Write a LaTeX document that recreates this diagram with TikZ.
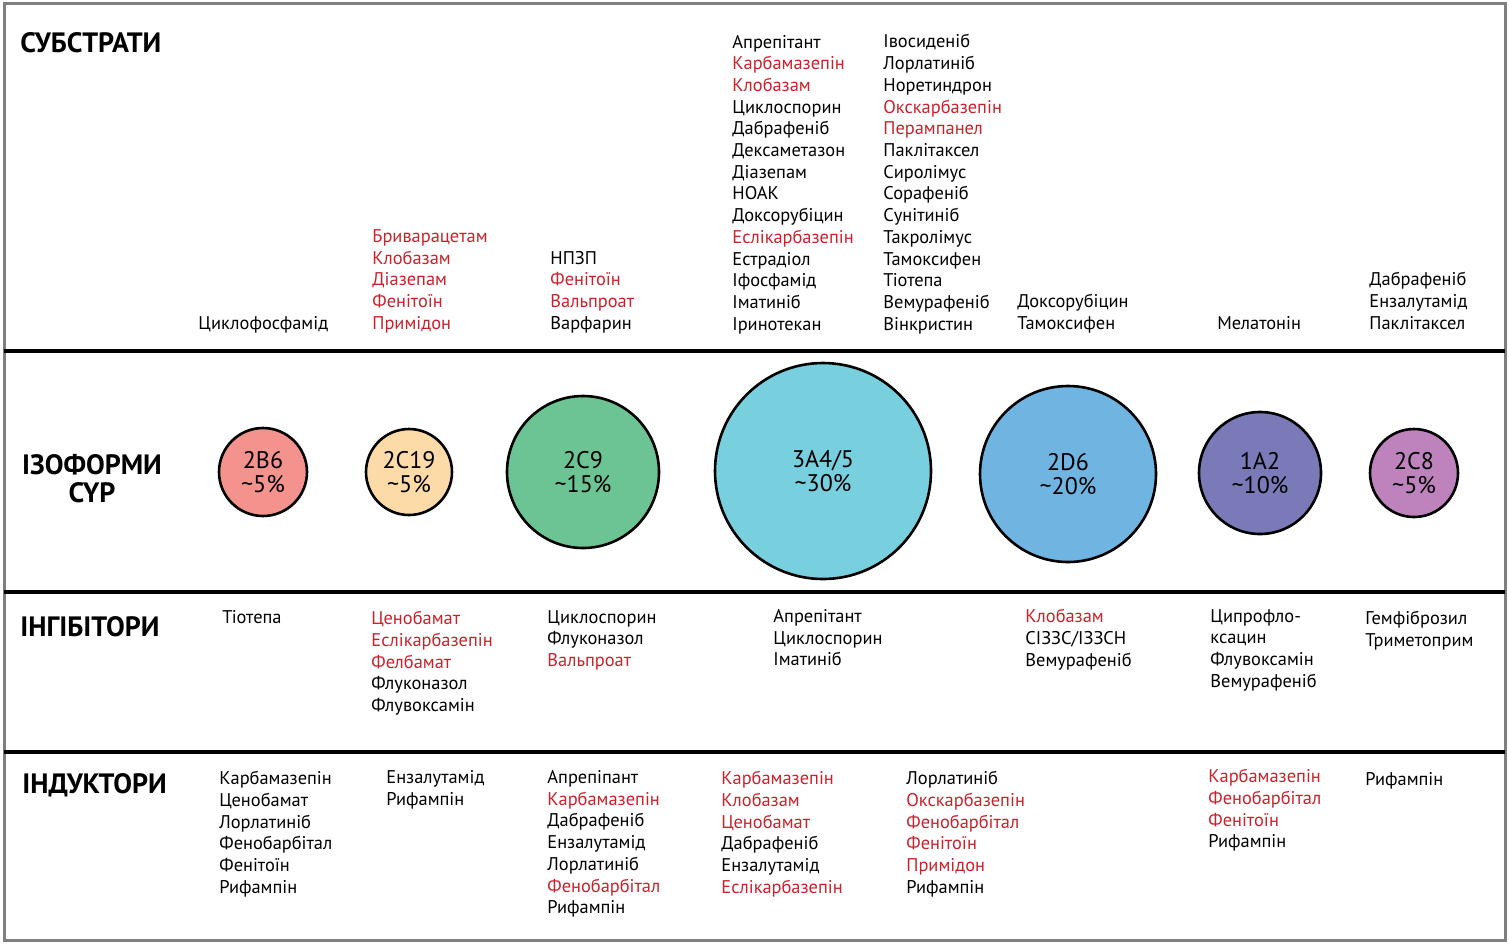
\documentclass[tikz,border=0pt]{standalone}
\usepackage{fontspec}
\setmainfont{PT Sans}
\definecolor{drugred}{RGB}{200,35,45}
\definecolor{col2b6}{HTML}{F4938E}
\definecolor{col2c19}{HTML}{FDDBA8}
\definecolor{col2c9}{HTML}{6CC494}
\definecolor{col3a4}{HTML}{78D0DE}
\definecolor{col2d6}{HTML}{70B5E2}
\definecolor{col1a2}{HTML}{7A7AB8}
\definecolor{col2c8}{HTML}{BE82BC}
\newcommand{\rd}[1]{\textcolor{drugred}{#1}}
\tikzset{
  lista/.style={inner sep=0pt, align=left, font=\fontsize{9.2}{10.85}\selectfont,
    execute at begin node=\strut, execute at end node=\strut},
  titolo/.style={inner sep=0pt, align=center, font=\fontsize{14}{14}\selectfont\bfseries},
  iso/.style={circle, draw=black, line width=1.3pt, inner sep=0pt, align=center,
    font=\fontsize{12}{12}\selectfont},
  riga/.style={line width=2pt}
}
\begin{document}
\begin{tikzpicture}[x=0.5pt,y=-0.5pt]
  \useasboundingbox (0,0) rectangle (1509,944);
  % cornice e righe
  \draw[gray, line width=1.5pt] (4,3) rectangle (1505,940);
  \draw[riga] (4,351) -- (1505,351);
  \draw[riga] (4,592) -- (1505,592);
  \draw[riga] (4,752) -- (1505,752);

  % titoli
  \node[titolo, anchor=west] (tsub) at (20,43) {СУБСТРАТИ};
  \node[titolo] (tiso) at (92,479) {ІЗОФОРМИ\\CYP};
  \node[titolo, anchor=west] (tinh) at (20,627) {ІНГІБІТОРИ};
  \node[titolo, anchor=west] (tind) at (22,785) {ІНДУКТОРИ};

  % substrati
  \node[lista, anchor=south west] (s2b6) at (198,336) {Циклофосфамід};
  \node[lista, anchor=south west] (s2c19) at (372,336) {\rd{Бриварацетам}\\\rd{Клобазам}\\\rd{Діазепам}\\\rd{Фенітоїн}\\\rd{Примідон}};
  \node[lista, anchor=south west] (s2c9) at (550,336) {НПЗП\\\rd{Фенітоїн}\\\rd{Вальпроат}\\Варфарин};
  \node[lista, anchor=south west] (s3a4a) at (732,337) {Апрепітант\\\rd{Карбамазепін}\\\rd{Клобазам}\\Циклоспорин\\Дабрафеніб\\Дексаметазон\\Діазепам\\НОАК\\Доксорубіцин\\\rd{Еслікарбазепін}\\Естрадіол\\Іфосфамід\\Іматиніб\\Іринотекан};
  \node[lista, anchor=south west] (s3a4b) at (883,337) {Івосиденіб\\Лорлатиніб\\Норетиндрон\\\rd{Окскарбазепін}\\\rd{Перампанел}\\Паклітаксел\\Сиролімус\\Сорафеніб\\Сунітиніб\\Такролімус\\Тамоксифен\\Тіотепа\\Вемурафеніб\\Вінкристин};
  \node[lista, anchor=south west] (s2d6) at (1017,336) {Доксорубіцин\\Тамоксифен};
  \node[lista, anchor=south west] (s1a2) at (1217,336) {Мелатонін};
  \node[lista, anchor=south west] (s2c8) at (1369,336) {Дабрафеніб\\Ензалутамід\\Паклітаксел};

  % isoforme
  \node[iso, fill=col2b6, minimum size=44pt] (c2b6) at (263,472) {2B6\\\textasciitilde5\%};
  \node[iso, fill=col2c19, minimum size=43pt] (c2c19) at (409,472) {2C19\\\textasciitilde5\%};
  \node[iso, fill=col2c9, minimum size=76pt] (c2c9) at (583,472) {2C9\\\textasciitilde15\%};
  \node[iso, fill=col3a4, minimum size=108pt] (c3a4) at (823,471) {3A4/5\\\textasciitilde30\%};
  \node[iso, fill=col2d6, minimum size=88pt] (c2d6) at (1068,474) {2D6\\\textasciitilde20\%};
  \node[iso, fill=col1a2, minimum size=61pt] (c1a2) at (1260,473) {1A2\\\textasciitilde10\%};
  \node[iso, fill=col2c8, minimum size=44pt] (c2c8) at (1414,473) {2C8\\\textasciitilde5\%};

  % inibitori
  \node[lista, anchor=north west] (i2b6) at (222,608) {Тіотепа};
  \node[lista, anchor=north west] (i2c19) at (371,611) {\rd{Ценобамат}\\\rd{Еслікарбазепін}\\\rd{Фелбамат}\\Флуконазол\\Флувоксамін};
  \node[lista, anchor=north west] (i2c9) at (547,610) {Циклоспорин\\Флуконазол\\\rd{Вальпроат}};
  \node[lista, anchor=north west] (i3a4) at (773,609) {Апрепітант\\Циклоспорин\\Іматиніб};
  \node[lista, anchor=north west] (i2d6) at (1025,609) {\rd{Клобазам}\\СІЗЗС/ІЗЗСН\\Вемурафеніб};
  \node[lista, anchor=north west] (i1a2) at (1210,609) {Ципрофло-\\ксацин\\Флувоксамін\\Вемурафеніб};
  \node[lista, anchor=north west] (i2c8) at (1365,611) {Гемфіброзил\\Триметоприм};

  % induttori
  \node[lista, anchor=north west] (d2b6) at (219,771) {Карбамазепін\\Ценобамат\\Лорлатиніб\\Фенобарбітал\\Фенітоїн\\Рифампін};
  \node[lista, anchor=north west] (d2c19) at (386,770) {Ензалутамід\\Рифампін};
  \node[lista, anchor=north west] (d2c9) at (547,770) {Апрепіпант\\\rd{Карбамазепін}\\Дабрафеніб\\Ензалутамід\\Лорлатиніб\\\rd{Фенобарбітал}\\Рифампін};
  \node[lista, anchor=north west] (d3a4) at (721,771) {\rd{Карбамазепін}\\\rd{Клобазам}\\\rd{Ценобамат}\\Дабрафеніб\\Ензалутамід\\\rd{Еслікарбазепін}};
  \node[lista, anchor=north west] (d2d6) at (906,771) {Лорлатиніб\\\rd{Окскарбазепін}\\\rd{Фенобарбітал}\\\rd{Фенітоїн}\\\rd{Примідон}\\Рифампін};
  \node[lista, anchor=north west] (d1a2) at (1208,769) {\rd{Карбамазепін}\\\rd{Фенобарбітал}\\\rd{Фенітоїн}\\Рифампін};
  \node[lista, anchor=north west] (d2c8) at (1365,770) {Рифампін};
\end{tikzpicture}
\end{document}
